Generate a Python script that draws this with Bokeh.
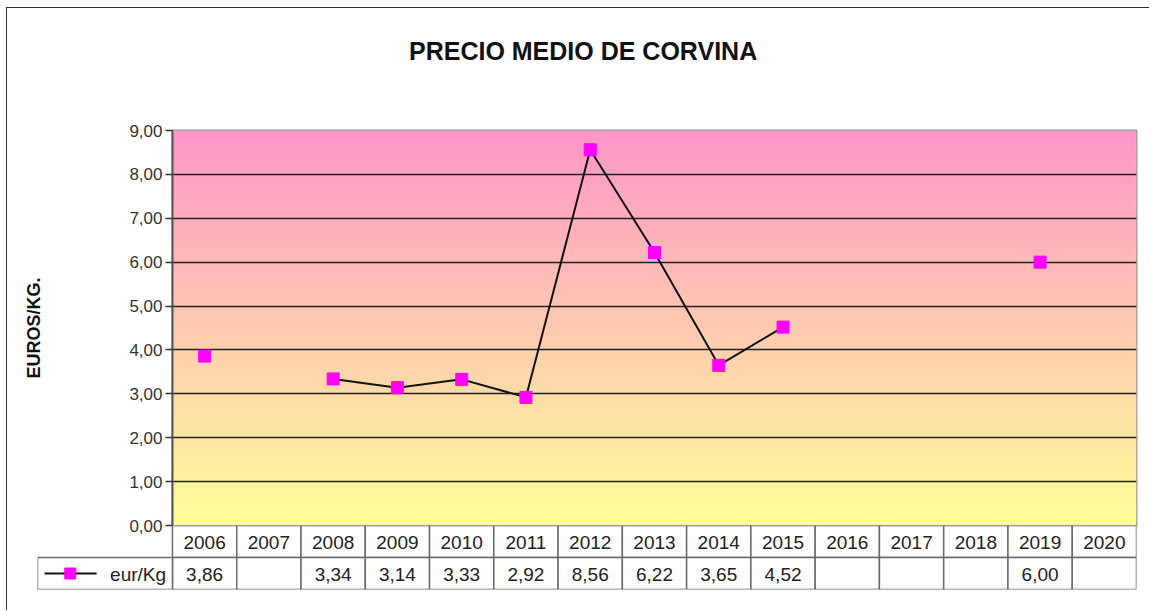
import numpy as np
from bokeh.plotting import figure
from bokeh.layouts import column
from bokeh.models import (Range1d, FixedTicker, CustomJSTickFormatter,
                          ColumnDataSource, Div)
from bokeh.core.properties import value
from bokeh.embed import file_html
from bokeh.resources import INLINE

# ---------------- data ----------------
years = [2006, 2007, 2008, 2009, 2010, 2011, 2012, 2013, 2014, 2015,
         2016, 2017, 2018, 2019, 2020]
prices = [3.86, None, 3.34, 3.14, 3.33, 2.92, 8.56, 6.22, 3.65, 4.52,
          None, None, None, 6.00, None]
y_ticks = [0, 1, 2, 3, 4, 5, 6, 7, 8, 9]
title_text = "PRECIO MEDIO DE CORVINA"
y_label = "EUROS/KG."
series_name = "eur/Kg"

FONT = "Liberation Sans"
W = 1142
OV = 14   # overlap so the lowest tick label is not cut
TD = 110  # height of the title block
n = len(years)
xs = [i + 0.5 for i in range(n)]
ys = [np.nan if v is None else v for v in prices]
src = ColumnDataSource(dict(x=xs, y=ys))

# ---------------- title ----------------
title_div = Div(
    text=('<div style="padding-top:26px;padding-left:402px;white-space:nowrap;'
          'font-family:\'Liberation Sans\';font-weight:bold;font-size:25px;'
          'color:#111111;">' + title_text + '</div>'),
    width=W, height=TD)
title_div.margin = 0

# ---------------- top chart ----------------
p = figure(width=W, height=517 + OV - TD, output_backend="svg", toolbar_location=None,
           x_range=Range1d(0, n), y_range=Range1d(y_ticks[0], y_ticks[-1]),
           min_border_left=165, min_border_right=13, min_border_top=122 - TD,
           min_border_bottom=OV, x_axis_location=None)
p.frame_align = False
p.margin = 0
p.outline_line_color = "#9a9a9a"
p.outline_line_width = 2
p.background_fill_color = "#FFCCB3"
p.border_fill_color = None

# gradient background (pink top -> yellow bottom)
N = 400
img = np.zeros((N, 1), dtype=np.uint32)
view = img.view(dtype=np.uint8).reshape((N, 1, 4))
top_c = np.array([255, 150, 200])
bot_c = np.array([255, 255, 153])
for r in range(N):
    tt = r / (N - 1)
    c = bot_c + (top_c - bot_c) * tt
    view[r, 0, 0:3] = c.astype(np.uint8)
    view[r, 0, 3] = 255
p.image_rgba(image=[img], x=0, y=y_ticks[0], dw=n, dh=y_ticks[-1] - y_ticks[0],
             level="image")

p.xgrid.visible = False
p.ygrid.ticker = FixedTicker(ticks=y_ticks)
p.ygrid.grid_line_color = "#222222"
p.ygrid.grid_line_width = 1.3

ax = p.yaxis[0]
ax.ticker = FixedTicker(ticks=y_ticks)
ax.formatter = CustomJSTickFormatter(code="return tick.toFixed(2).replace('.', ',');")
ax.major_label_text_font = FONT
ax.major_label_text_font_size = "17px"
ax.major_label_text_color = "#333333"
ax.major_label_standoff = 3
ax.major_tick_out = 7
ax.major_tick_in = 0
ax.major_tick_line_color = "#333333"
ax.major_tick_line_width = 1.5
ax.minor_tick_line_color = None
ax.axis_line_color = "#555555"
ax.axis_line_width = 2
ax.axis_label = y_label
ax.axis_label_text_font = FONT
ax.axis_label_text_font_style = "bold"
ax.axis_label_text_font_size = "18px"
ax.axis_label_text_color = "#111111"
ax.axis_label_standoff = 82

p.line("x", "y", source=src, line_color="#111111", line_width=2)
p.scatter("x", "y", source=src, marker="square", size=12,
          fill_color="#FF00FF", line_color="#FF00FF")

# ---------------- data table ----------------
leg_w = 2.1
t = figure(width=W, height=85, output_backend="svg", toolbar_location=None,
           x_range=Range1d(-leg_w, n), y_range=Range1d(2, 0),
           min_border_left=30, min_border_right=13, min_border_top=0,
           min_border_bottom=21, x_axis_location=None, y_axis_location=None)
t.frame_align = False
t.margin = (-OV, 0, 0, 0)
t.outline_line_color = None
t.xgrid.visible = False
t.ygrid.visible = False
t.background_fill_color = None
t.border_fill_color = None

cell_col = "#6a6a6a"
t.rect(x=xs, y=[0.5] * n, width=1, height=1, fill_color="white",
       line_color=cell_col, line_width=1.5)
t.rect(x=xs + [-leg_w / 2], y=[1.5] * (n + 1), width=[1] * n + [leg_w], height=1,
       fill_color="white", line_color=cell_col, line_width=1.5)

t.text(x=xs, y=[0.52] * n, text=[str(y) for y in years], text_align="center",
       text_baseline="middle", text_font=value(FONT), text_font_size="19px",
       text_color="#222222")
vx = [xs[i] for i in range(n) if prices[i] is not None]
vt = [("%.2f" % prices[i]).replace(".", ",") for i in range(n) if prices[i] is not None]
t.text(x=vx, y=[1.52] * len(vx), text=vt, text_align="center",
       text_baseline="middle", text_font=value(FONT), text_font_size="19px",
       text_color="#222222")

# legend key in the table
t.segment(x0=[-1.99], y0=[1.5], x1=[-1.18], y1=[1.5], line_color="#111111",
          line_width=2)
t.scatter(x=[-1.59], y=[1.5], marker="square", size=11, fill_color="#FF00FF",
          line_color="#FF00FF")
t.text(x=[-0.1], y=[1.52], text=[series_name], text_align="right",
       text_baseline="middle", text_font=value(FONT), text_font_size="19px",
       text_color="#222222")

layout = column(title_div, p, t, spacing=0,
                styles={"border-left": "1px solid #333", "border-top": "1px solid #333",
                        "margin-left": "6px", "margin-top": "7px"})
open("out.html", "w").write(file_html(layout, INLINE))
